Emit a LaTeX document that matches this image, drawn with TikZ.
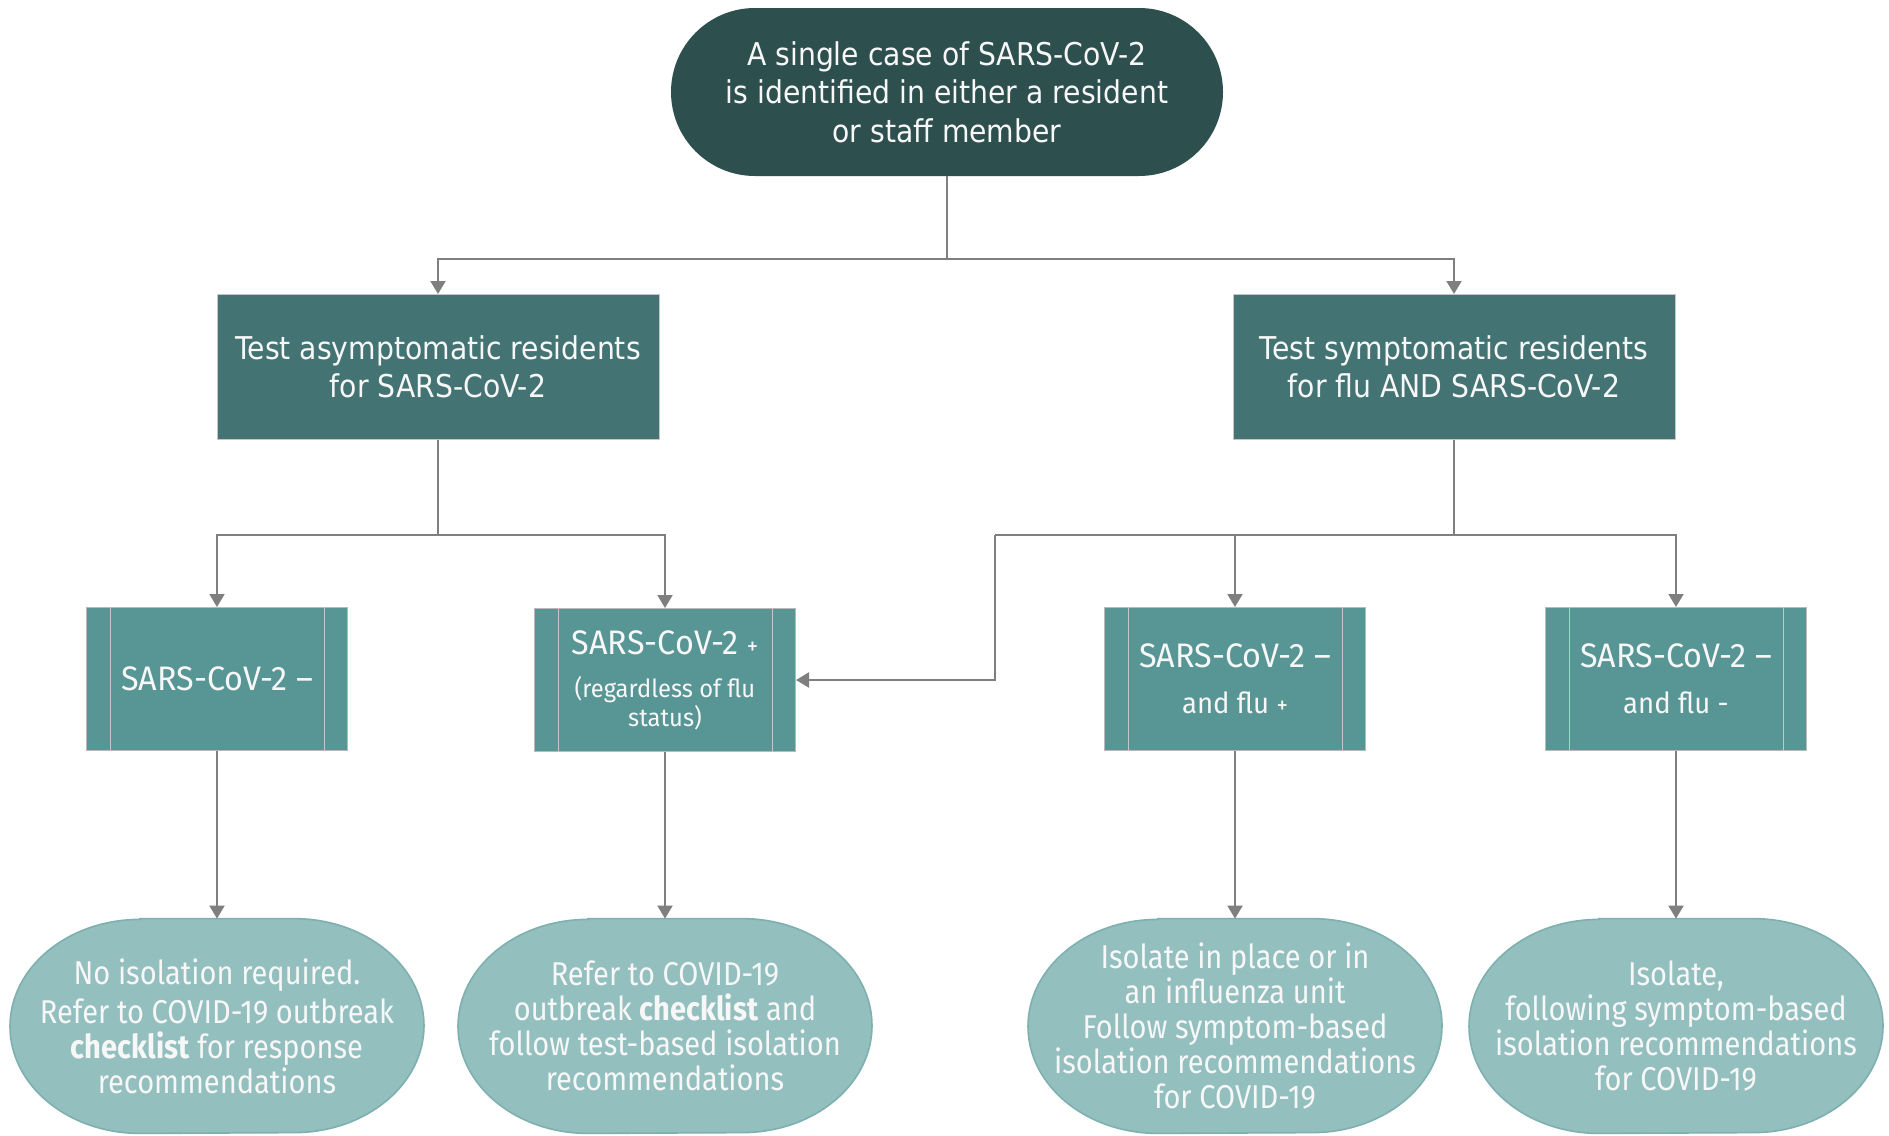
\documentclass[tikz,border=0pt]{standalone}
\usepackage{fontspec}
\setmainfont{DejaVu Sans}[FakeStretch=0.9]
\newfontfamily\cond{Fira Sans}[FakeStretch=0.88]
\newfontfamily\condw{Fira Sans}[FakeStretch=0.95]
\usetikzlibrary{arrows.meta,backgrounds}
\definecolor{topc}{HTML}{2D4F4E}
\definecolor{midc}{HTML}{447373}
\definecolor{lowc}{HTML}{589595}
\definecolor{pillc}{HTML}{93BFBF}
\definecolor{pilld}{HTML}{7DB0AF}
\definecolor{linec}{HTML}{7F7F7F}
\definecolor{txtc}{HTML}{F7F7F7}
\newcommand\pillshape[1]{%
  \path[fill=pillc, draw=pilld, line width=0.8pt]
    ([xshift=-38.5pt]#1.north) -- ([xshift=38.5pt]#1.north)
    arc[start angle=90,end angle=-90,x radius=65pt,y radius=53.5pt]
    -- ([xshift=-38.5pt]#1.south)
    arc[start angle=270,end angle=90,x radius=65pt,y radius=53.5pt] -- cycle;}
\newcommand\sidelines[1]{%
  \draw[innerln] ([xshift=12pt]#1.north west) -- ([xshift=12pt]#1.south west);
  \draw[innerln] ([xshift=-12pt]#1.north east) -- ([xshift=-12pt]#1.south east);}
\begin{document}
\begin{tikzpicture}[x=0.5pt,y=-0.5pt,
  topbox/.style={rounded corners=42pt, fill=topc, minimum width=276pt, minimum height=84pt,
    text=txtc, align=center, inner sep=0pt, font=\fontsize{15.7}{19.25}\selectfont},
  midbox/.style={fill=midc, draw=gray!45, line width=0.5pt, minimum width=221pt, minimum height=72.5pt,
    text=txtc, align=center, inner sep=0pt, font=\fontsize{15.7}{19.25}\selectfont},
  lowbox/.style={fill=lowc, draw=gray!55, line width=0.5pt, minimum width=130.5pt, minimum height=71.5pt,
    text=txtc, align=center, inner sep=0pt, font=\condw\fontsize{17}{21}\selectfont},
  pilltext/.style={align=center, text=txtc, inner sep=0pt, minimum width=207pt, minimum height=107pt,
    font=\cond\fontsize{16.5}{17.5}\selectfont},
  innerln/.style={draw=gray!45, line width=0.5pt},
  ln/.style={draw=linec, line width=1pt},
  arr/.style={draw=linec, line width=1pt, -{Triangle[width=7.5pt,length=6.5pt]}}
]
\useasboundingbox (0,0) rectangle (1889,1135);

\node[topbox] (top) at (947,92) {A single case of SARS-CoV-2\\is identified in either a resident\\or staff member};

\node[midbox] (a) at (438,367) {Test asymptomatic residents\\for SARS-CoV-2};
\node[midbox] (b) at (1454,367) {Test symptomatic residents\\for flu AND SARS-CoV-2};

\node[lowbox] (c1) at (217,679) {SARS-CoV-2 –};
\node[lowbox, font=\condw\fontsize{17}{14.5}\selectfont] (c2) at (665,680) {SARS-CoV-2 {\fontsize{12}{14}\selectfont +}\\[7pt]
  {\fontsize{12.5}{14.5}\selectfont (regardless of flu}\\{\fontsize{12.5}{14.5}\selectfont status)}};
\node[lowbox] (c3) at (1235,679) {SARS-CoV-2 –\\[2pt]{\fontsize{14.5}{17}\selectfont and flu {\fontsize{12}{14}\selectfont +}}};
\node[lowbox] (c4) at (1676,679) {SARS-CoV-2 –\\[2pt]{\fontsize{14.5}{17}\selectfont and flu -}};
\sidelines{c1}\sidelines{c2}\sidelines{c3}\sidelines{c4}

\node[pilltext] (e1) at (217,1026) {No isolation required.\\[2pt]Refer to COVID-19 outbreak\\{\bfseries checklist} for response\\recommendations};
\node[pilltext] (e2) at (665,1026) {Refer to COVID-19\\outbreak {\bfseries checklist} and\\follow test-based isolation\\recommendations};
\node[pilltext] (e3) at (1235,1026) {Isolate in place or in\\an influenza unit\\Follow symptom-based\\isolation recommendations\\for COVID-19};
\node[pilltext] (e4) at (1676,1026) {Isolate,\\following symptom-based\\isolation recommendations\\for COVID-19};
\begin{scope}[on background layer]
  \fill[white] (0,0) rectangle (1889,1135);
  \pillshape{e1}\pillshape{e2}\pillshape{e3}\pillshape{e4}
\end{scope}

\coordinate (j0) at (947,259);
\draw[ln] (top.south) -- (j0);
\draw[arr] (j0) -| (a.north);
\draw[arr] (j0) -| (b.north);

\coordinate (j1) at (438,535);
\draw[ln] (a.south) -- (j1);
\draw[arr] (j1) -| (c1.north);
\draw[arr] (j1) -| (c2.north);

\coordinate (j2) at (1454,535);
\coordinate (j3) at (995,535);
\draw[ln] (b.south) -- (j2);
\draw[ln] (j2) -- (j3);
\draw[arr] (j2) -| (c3.north);
\draw[arr] (j2) -| (c4.north);
\draw[arr] (j3) |- (c2.east);

\draw[arr] (c1.south) -- (e1.north);
\draw[arr] (c2.south) -- (e2.north);
\draw[arr] (c3.south) -- (e3.north);
\draw[arr] (c4.south) -- (e4.north);
\end{tikzpicture}
\end{document}
